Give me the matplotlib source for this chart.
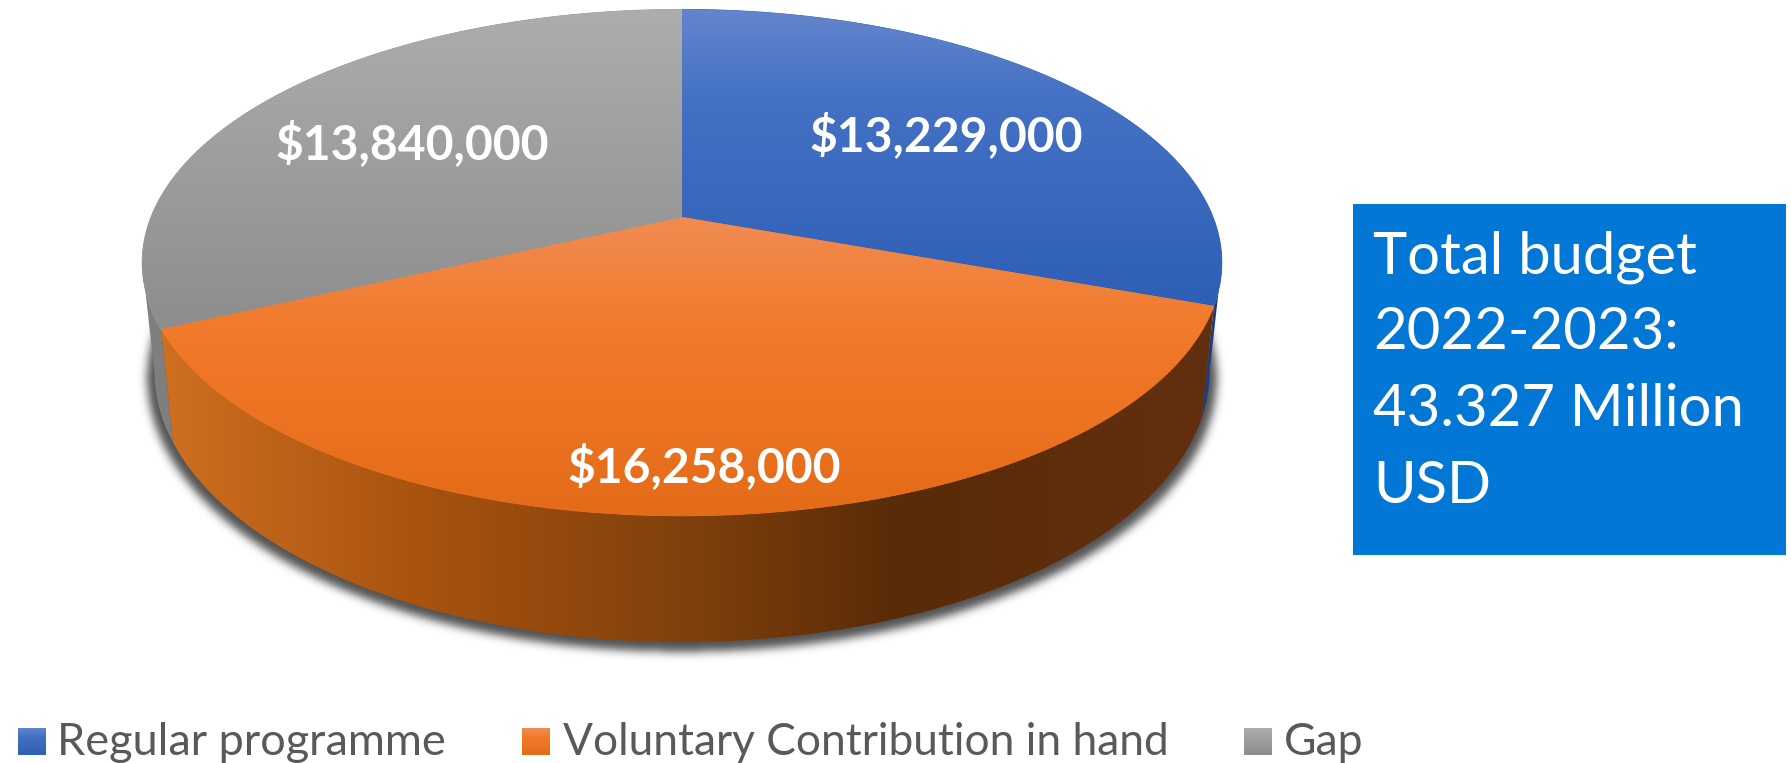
# -*- coding: utf-8 -*-
import numpy as np
import matplotlib
matplotlib.use("Agg")
import matplotlib.pyplot as plt
from matplotlib.colors import LinearSegmentedColormap
from matplotlib.patches import PathPatch, Rectangle
from matplotlib.path import Path

plt.rcParams['font.family'] = ['Lato', 'DejaVu Sans']

# data
categories = ["Regular programme", "Voluntary Contribution in hand", "Gap"]
values = [13229000, 16258000, 13840000]
value_labels = ["$13,229,000", "$16,258,000", "$13,840,000"]
box_lines = ["Total budget", "2022-2023:", "43.327 Million", "USD"]

# colours, top of the slice to its bottom
top_colors = [[(0.0, "#6485cc"), (0.3, "#4471c4"), (1.0, "#2e5fb6")],
              [(0.0, "#f08c52"), (0.35, "#f27b2c"), (1.0, "#e46b17")],
              [(0.0, "#adadad"), (1.0, "#8d8d8d")]]
side_colors = ["#1f3d7c", None, "#7f7f7f"]
orange_side_stops = [(0.0, "#cf6f20"), (0.24, "#a9530f"), (0.5, "#80400c"),
                     (0.7, "#592b08"), (1.0, "#63300f")]

# geometry of the tilted pie
cx = 682
k = 0.18
top_cy, top_R, top_S = 217, 531, 245
bot_cy, bot_R, bot_S = 322.5, 519, 262

W, H = 1791, 763
fig = plt.figure(figsize=(W / 100, H / 100), dpi=100)
ax = fig.add_axes([0, 0, 1, 1])


def rim(a, cy, R, S):
    # a = degrees clockwise from 12 o'clock
    a = np.radians(a)
    u, v = np.sin(a), np.cos(a)
    w = 1 + k * v
    return cx + R * u / w, cy - S * v / w


def grad_fill(xs, ys, cmap, z, horizontal=False, extent=None):
    verts = np.column_stack([xs, ys])
    verts = np.vstack([verts, verts[0]])
    path = Path(verts, closed=True)
    if extent is None:
        extent = (xs.min(), xs.max(), ys.max(), ys.min())
    g = np.linspace(0, 1, 512)
    g = g[None, :] if horizontal else g[:, None]
    im = ax.imshow(g, cmap=cmap, extent=extent, aspect='auto', interpolation='bilinear',
                   vmin=0, vmax=1, zorder=z)
    patch = PathPatch(path, transform=ax.transData, fc='none', ec='none')
    ax.add_patch(patch)
    im.set_clip_path(patch)


def flat_side(a0, a1, z, color=None, cmap=None, extent=None):
    aa = np.linspace(a0, a1, 200)
    tx, ty = rim(aa, top_cy, top_R, top_S)
    bx, by = rim(aa, bot_cy, bot_R, bot_S)
    xs = np.r_[tx, bx[::-1]]
    ys = np.r_[ty, by[::-1]]
    if cmap is None:
        ax.fill(xs, ys, color=color, lw=0, zorder=z)
    else:
        grad_fill(xs, ys, cmap, z, horizontal=True, extent=extent)


# blurred shadow under the pie
yy, xx = np.mgrid[0:H, 0:W]
aa = np.linspace(0, 360, 720)
sx, sy = rim(aa, bot_cy + 6, bot_R + 7, bot_S + 3)
mask = Path(np.column_stack([sx, sy])).contains_points(
    np.column_stack([xx.ravel() + 0.5, yy.ravel() + 0.5])).reshape(H, W).astype(float)
kern = np.exp(-0.5 * (np.arange(-14, 15) / 4.5) ** 2)
kern /= kern.sum()
mask = np.apply_along_axis(lambda r: np.convolve(r, kern, mode='same'), 0, mask)
mask = np.apply_along_axis(lambda r: np.convolve(r, kern, mode='same'), 1, mask)
shadow = np.zeros((H, W, 4))
shadow[..., :3] = 0.2
shadow[..., 3] = mask * 0.85
ax.imshow(shadow, extent=(0, W, H, 0), aspect='auto', interpolation='nearest', zorder=1)

# slice angles come from the values
total = sum(values)
edges = np.r_[0, np.cumsum(values)] / total * 360
tangent = np.degrees(np.arccos(-k))  # where the rim is widest

# sides
flat_side(tangent, edges[1], 2, color=side_colors[0])
flat_side(edges[2], 360 - tangent, 2, color=side_colors[2])
orange_cmap = LinearSegmentedColormap.from_list("side", orange_side_stops)
ox, _ = rim(np.linspace(edges[1], edges[2], 300), top_cy, top_R, top_S)
flat_side(edges[1], edges[2], 3, cmap=orange_cmap, extent=(ox.min(), ox.max(), H, 0))

# top faces
for i in range(3):
    aa = np.linspace(edges[i], edges[i + 1], 300)
    x, y = rim(aa, top_cy, top_R, top_S)
    xs = np.r_[cx, x]
    ys = np.r_[top_cy, y]
    cmap = LinearSegmentedColormap.from_list("t%d" % i, top_colors[i])
    ax.fill(xs, ys, color=cmap(0.6), lw=0.6, ec=cmap(0.6), zorder=4)  # closes the seams
    grad_fill(xs, ys, cmap, 5 + i)

# value labels
label_pos = [(946, 136), (704, 467), (412, 144)]
for (lx, ly), s in zip(label_pos, value_labels):
    ax.text(lx, ly, s, color="white", fontsize=34.6, fontweight='bold', ha='center', va='center',
            zorder=10)

# blue box
ax.add_patch(Rectangle((1353, 204), 433, 351, fc="#0277d6", ec='none', zorder=9))
for s, by in zip(box_lines, [273, 349, 426, 503]):
    ax.text(1373, by, s, color="white", fontsize=41.8, ha='left', va='baseline', zorder=10)

# legend
swatch_x = [18, 522, 1244]
text_x = [57, 563, 1284]
text_size = [32.5, 31.9, 32]
for i, name in enumerate(categories):
    cmap = LinearSegmentedColormap.from_list("l%d" % i, top_colors[i])
    ax.imshow(np.linspace(0, 1, 64)[:, None], cmap=cmap, aspect='auto',
              extent=(swatch_x[i], swatch_x[i] + 28, 755, 728), zorder=9)
    ax.text(text_x[i], 755, name, color="#595959", fontsize=text_size[i], ha='left', va='baseline',
            zorder=10)

ax.set_xlim(0, W)
ax.set_ylim(H, 0)
ax.axis('off')
fig.savefig("out.png", dpi=100, facecolor="white")
